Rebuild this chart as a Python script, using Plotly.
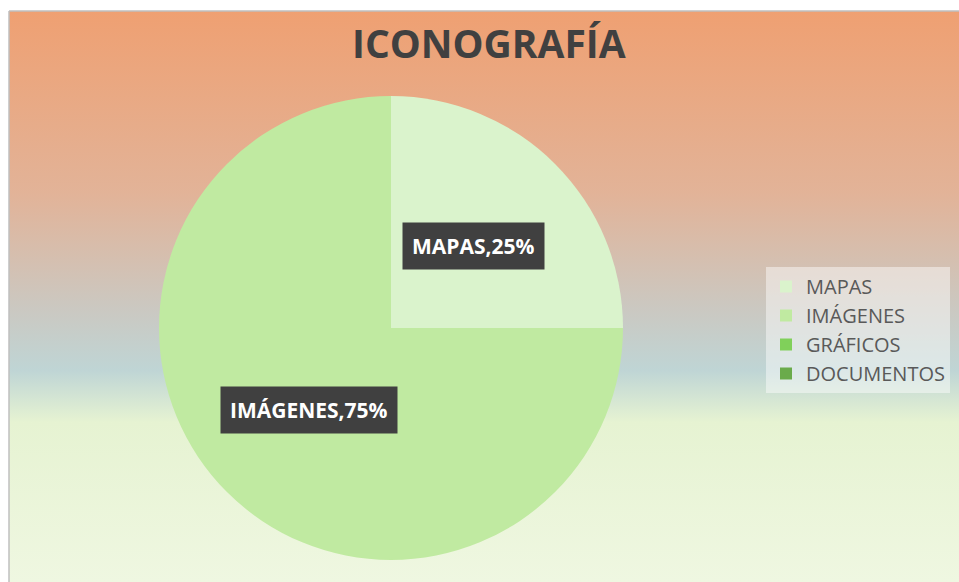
import math
import base64
import plotly.graph_objects as go

# ---- data ----
categories = ["MAPAS", "IMÁGENES", "GRÁFICOS", "DOCUMENTOS"]
values = [25, 75, 0, 0]
colors = ["#DAF3CC", "#C0EAA1", "#80D05A", "#6AAB4B"]
title_text = "ICONOGRAFÍA"

W, H = 959, 582

# background gradient (SVG data URI)
svg = (
    '<svg xmlns="http://www.w3.org/2000/svg" width="100" height="100" preserveAspectRatio="none">'
    '<defs><linearGradient id="g" x1="0" y1="0" x2="0" y2="1">'
    '<stop offset="0" stop-color="#EFA072"/>'
    '<stop offset="0.32" stop-color="#E2B398"/>'
    '<stop offset="0.52" stop-color="#CBC8C1"/>'
    '<stop offset="0.63" stop-color="#BFD5D5"/>'
    '<stop offset="0.72" stop-color="#E6F3D2"/>'
    '<stop offset="1" stop-color="#EFF7E1"/>'
    '</linearGradient></defs>'
    '<rect width="100" height="100" fill="url(#g)"/></svg>'
)
svg_uri = "data:image/svg+xml;base64," + base64.b64encode(svg.encode()).decode()

# pie geometry in pixels
cx, cy, R = 391, 328, 232
dom_x = [(cx - R) / W, (cx + R) / W]
dom_y = [(H - cy - R) / H, (H - cy + R) / H]

fig = go.Figure()
fig.add_trace(go.Pie(
    labels=categories,
    values=values,
    marker=dict(colors=colors, line=dict(width=0)),
    sort=False,
    direction="clockwise",
    rotation=0,
    textinfo="none",
    hoverinfo="label+percent",
    domain=dict(x=dom_x, y=dom_y),
    showlegend=True,
))

# data labels at half radius along each slice's mid-angle
total = sum(values)
annotations = []
cum = 0
for lab, v in zip(categories, values):
    if v > 0:
        mid = (cum + v / 2) / total * 2 * math.pi
        px = cx + 0.5 * R * math.sin(mid)
        py = cy - 0.5 * R * math.cos(mid)
        annotations.append(dict(
            x=px / W, y=1 - py / H, xref="paper", yref="paper",
            text=f"<b>{lab},{round(v / total * 100)}%</b>",
            showarrow=False,
            font=dict(family="Open Sans", size=21, color="white"),
            bgcolor="#404040", borderpad=9,
            xanchor="center", yanchor="middle",
        ))
    cum += v

annotations.append(dict(
    x=489 / W, y=1 - 43 / H, xref="paper", yref="paper",
    text=f"<b>{title_text}</b>", showarrow=False,
    font=dict(family="Open Sans", size=39, color="#404040"),
    xanchor="center", yanchor="middle",
))

fig.update_layout(
    width=W, height=H,
    margin=dict(l=0, r=0, t=0, b=0),
    paper_bgcolor="white",
    plot_bgcolor="rgba(0,0,0,0)",
    images=[dict(
        source=svg_uri, xref="paper", yref="paper",
        x=9 / W, y=1 - 11 / H, sizex=1 - 9 / W, sizey=1 - 11 / H,
        xanchor="left", yanchor="top", sizing="stretch", layer="below",
    )],
    shapes=[
        dict(type="line", xref="paper", yref="paper",
             x0=9 / W, x1=1, y0=1 - 11 / H, y1=1 - 11 / H,
             line=dict(color="#BFBFBF", width=1.5)),
        dict(type="line", xref="paper", yref="paper",
             x0=9 / W, x1=9 / W, y0=0, y1=1 - 11 / H,
             line=dict(color="#BFBFBF", width=1.5)),
    ],
    annotations=annotations,
    legend=dict(
        x=766 / W, y=1 - 267 / H, xanchor="left", yanchor="top",
        bgcolor="rgba(255,255,255,0.45)",
        font=dict(family="Open Sans", size=20, color="#595959"),
        itemsizing="constant",
        itemwidth=30,
        tracegroupgap=0,
    ),
)

fig.write_html(
    "out.html",
    config={"displayModeBar": False},
    post_script="document.body.style.margin='0';document.body.style.overflow='hidden';",
)
